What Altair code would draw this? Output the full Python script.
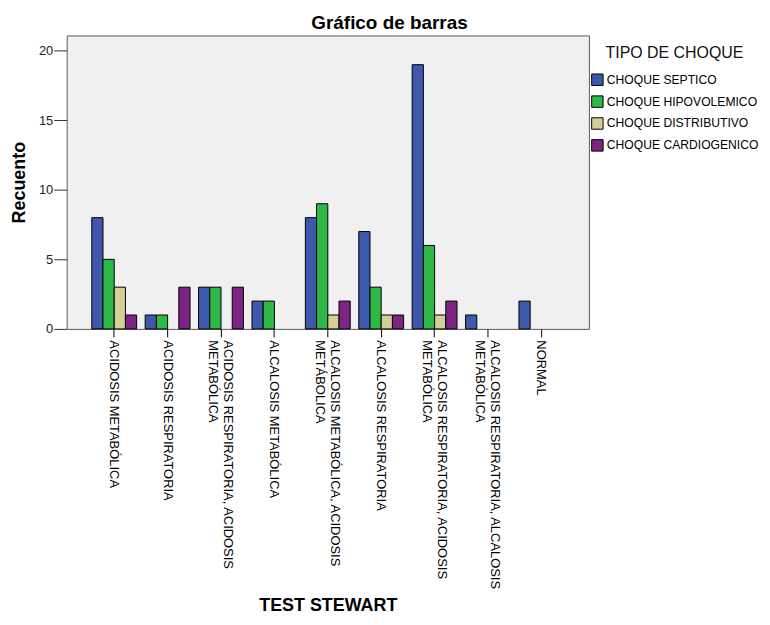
import altair as alt
import pandas as pd

categorias = [
    "ACIDOSIS METABÓLICA",
    "ACIDOSIS RESPIRATORIA",
    "ACIDOSIS RESPIRATORIA, ACIDOSIS METABÓLICA",
    "ALCALOSIS METABÓLICA",
    "ALCALOSIS METABÓLICA, ACIDOSIS METÁBOLICA",
    "ALCALOSIS RESPIRATORIA",
    "ALCALOSIS RESPIRATORIA, ACIDOSIS METABÓLICA",
    "ALCALOSIS RESPIRATORIA, ALCALOSIS METABÓLICA",
    "NORMAL",
]
series = ["CHOQUE SEPTICO", "CHOQUE HIPOVOLEMICO", "CHOQUE DISTRIBUTIVO", "CHOQUE CARDIOGENICO"]
septico = [8, 1, 3, 2, 8, 7, 19, 1, 2]
hipovolemico = [5, 1, 3, 2, 9, 3, 6, 0, 0]
distributivo = [3, 0, 0, 0, 1, 1, 1, 0, 0]
cardiogenico = [1, 3, 3, 0, 2, 1, 2, 0, 0]
colores = ["#3E58AC", "#2EB84A", "#D4CF98", "#7D2482"]
y_ticks = [0, 5, 10, 15, 20]

rows = []
for s, vals in zip(series, [septico, hipovolemico, distributivo, cardiogenico]):
    for c, v in zip(categorias, vals):
        rows.append({"test": c, "tipo": s, "recuento": v})
df = pd.DataFrame(rows)

label_expr = (
    "indexof(datum.label, ',') > 0 ? "
    "[slice(datum.label, 0, lastindexof(datum.label, ' ')), "
    "slice(datum.label, lastindexof(datum.label, ' ') + 1)] : datum.label"
)

chart = (
    alt.Chart(df)
    .transform_filter("datum.recuento > 0")
    .mark_bar(stroke="black", strokeWidth=1, opacity=1)
    .encode(
        x=alt.X(
            "test:N",
            sort=categorias,
            scale=alt.Scale(domain=categorias, paddingInner=0.16, paddingOuter=0.47),
            axis=alt.Axis(
                title="TEST STEWART",
                titleFontSize=18,
                titleFontWeight="bold",
                titleColor="#000",
                titleBaseline="alphabetic",
                titleY=283,
                labelAngle=90,
                labelFontSize=13,
                labelLineHeight=15,
                labelColor="#000",
                labelPadding=3,
                labelExpr=label_expr,
                labelOffset={"condition": {"test": "indexof(datum.value, ',') > 0", "value": 7}, "value": 0},
                labelOverlap=False,
                labelLimit=400,
                tickSize=8,
                tickColor="#000",
                domain=False,
            ),
        ),
        xOffset=alt.XOffset("tipo:N", sort=series, scale=alt.Scale(domain=series, paddingInner=0, paddingOuter=0)),
        y=alt.Y(
            "recuento:Q",
            scale=alt.Scale(domain=[0, 21.1], nice=False),
            axis=alt.Axis(
                title="Recuento",
                titleFontSize=18,
                titleFontWeight="bold",
                titleColor="#000",
                titleBaseline="alphabetic",
                titleAlign="center",
                titleX=-42,
                titleY=147.5,
                values=y_ticks,
                labelFontSize=13,
                labelColor="#222",
                labelPadding=1,
                tickSize=13,
                tickColor="#333",
                grid=False,
                domain=False,
            ),
        ),
        color=alt.Color(
            "tipo:N",
            sort=series,
            scale=alt.Scale(domain=series, range=colores),
            legend=alt.Legend(
                title="TIPO DE CHOQUE",
                orient="none",
                legendX=527,
                legendY=10,
                titleFontSize=16,
                titleFontWeight="normal",
                titleColor="#111",
                titleAnchor="middle",
                titlePadding=12,
                labelFontSize=12.2,
                labelColor="#000",
                labelOffset=3,
                labelLimit=300,
                symbolType="square",
                symbolSize=132,
                symbolStrokeColor="black",
                symbolStrokeWidth=1,
                symbolOpacity=1,
                rowPadding=5,
            ),
        ),
    )
    .properties(
        width=525,
        height=295,
        title=alt.TitleParams(
            "Gráfico de barras",
            fontSize=19,
            fontWeight="bold",
            color="#000",
            anchor="middle",
            frame="group",
            baseline="alphabetic",
            offset=7,
            dx=62,
            dy=19,
        ),
        autosize=alt.AutoSizeParams(type="none"),
        padding={"left": 59, "top": 26, "right": 174, "bottom": 286},
    )
    .configure(font="Liberation Sans")
    .configure_view(fill="#F0F0F0", stroke="#5A5A5A", strokeWidth=1)
)

chart.save("out.html", embed_options={"renderer": "svg", "actions": False})
